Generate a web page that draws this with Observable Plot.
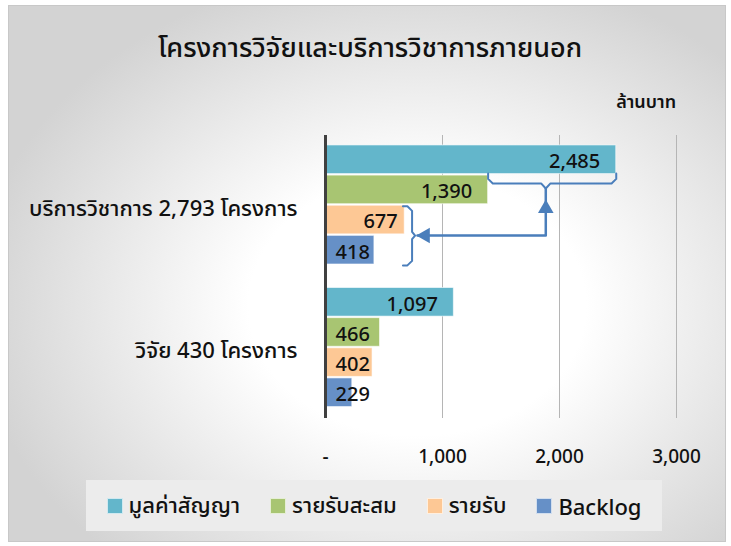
<!DOCTYPE html>
<html>
<head>
<meta charset="utf-8">
<script src="https://cdn.jsdelivr.net/npm/d3@7"></script>
<script src="https://cdn.jsdelivr.net/npm/@observablehq/plot@0.6"></script>
<style>
  html, body { margin: 0; padding: 0; background: #fff; }
  #chart {
    position: relative; width: 731px; height: 546px; overflow: hidden;
    font-family: "Noto Sans", "Noto Sans Thai", Tahoma, sans-serif;
  }
  #frame {
    position: absolute; left: 8px; top: 5px; width: 716px; height: 535px;
    border: 1px solid #c8c8c8;
    background: radial-gradient(ellipse 62% 64% at 57% 56%, #ffffff 38%, #d3d3d3 100%);
  }
  #title {
    position: absolute; left: 0; top: 28px; width: 740px; text-align: center;
    font-size: 27px; font-weight: 500; color: #111;
  }
  #unit {
    position: absolute; right: 55px; top: 89px; font-size: 18px; font-weight: 600; color: #111;
  }
  #plot { position: absolute; left: 0; top: 120px; }
  #legend {
    position: absolute; left: 86px; top: 480px; width: 576px; height: 51px;
    background: #ececec; display: flex; align-items: center; justify-content: center;
    gap: 30px; font-size: 22px; font-weight: 500; color: #111;
  }
  .item { display: flex; align-items: center; gap: 6px; }
  .sw { width: 14px; height: 14px; border: 1px solid rgba(255,255,255,0.7); }
</style>
</head>
<body>
<div id="chart">
  <div id="frame"></div>
  <div id="title"></div>
  <div id="unit"></div>
  <div id="plot"></div>
  <div id="legend"></div>
</div>
<script>
// ---- data ----
const titleText = "โครงการวิจัยและบริการวิชาการภายนอก";
const unitText = "ล้านบาท";
const groups = ["บริการวิชาการ 2,793 โครงการ", "วิจัย 430 โครงการ"];
const series = ["มูลค่าสัญญา", "รายรับสะสม", "รายรับ", "Backlog"];
const contractValue = [2485, 1097];
const accumulatedIncome = [1390, 466];
const income = [677, 402];
const backlog = [418, 229];
const xTicks = [0, 1000, 2000, 3000];
const colors = ["#63b6cb", "#a8c572", "#fdc895", "#6690c7"];

// ---- layout helpers ----
const GROUP_STEP = 4.73;       // rows per group incl. gap
const BAR = 0.95;              // bar thickness in rows
const valuesBySeries = [contractValue, accumulatedIncome, income, backlog];
const rows = [];
groups.forEach((g, gi) => series.forEach((s, si) => rows.push({
  group: g, series: s, value: valuesBySeries[si][gi], gi, si,
  top: gi * GROUP_STEP + si
})));

const fmt = d3.format(",");

document.getElementById("title").textContent = titleText;
document.getElementById("unit").textContent = unitText;

// annotation geometry derived from the first group's values
const lineColor = "#4a7ebb";
const t0 = contractValue[0], a0 = accumulatedIncome[0], i0 = income[0];
const xt = a0 + 0.45 * (t0 - a0);      // tip of the upper brace
const cx = 40, cy = 0.15;
const braceTop = [
  [a0, 0.93], [a0, 1.26 - cy], [a0 + cx, 1.26], [xt - cx, 1.26], [xt, 1.43],
  [xt + cx, 1.26], [t0 - cx, 1.26], [t0, 1.26 - cy], [t0, 0.93]
].map(([x, y]) => ({x, y}));
const bx = i0 + 63, btip = i0 + 89, ymid = 2.99;
const braceRight = [
  [i0 - 15, 2.02], [bx - cx, 2.02], [bx, 2.02 + cy], [bx, ymid - 0.12], [btip, ymid],
  [bx, ymid + 0.12], [bx, 3.98 - cy], [bx - cx, 3.98], [i0 - 15, 3.98]
].map(([x, y]) => ({x, y}));
const arrowLine = [{x: xt, y: 1.43}, {x: xt, y: ymid}, {x: btip + 20, y: ymid}];

const font = "'Noto Sans', 'Noto Sans Thai', Tahoma, sans-serif";
const plot = Plot.plot({
  width: 731, height: 355,
  marginLeft: 325, marginRight: 55, marginTop: 15, marginBottom: 57,
  style: {background: "transparent", fontFamily: font, color: "#111"},
  x: {domain: [0, 3000]},
  y: {domain: [-0.33, GROUP_STEP + 4 + 0.33], reverse: true, axis: null},
  color: {domain: series, range: colors},
  marks: [
    Plot.ruleX(xTicks.filter(d => d > 0), {stroke: "#b5b5b5", strokeWidth: 1}),
    Plot.rect(rows, {
      x1: 0, x2: "value", y1: d => d.top, y2: d => d.top + BAR,
      fill: "series", stroke: "white", strokeOpacity: 0.6, strokeWidth: 1
    }),
    Plot.ruleX([0], {stroke: "#404040", strokeWidth: 3}),
    Plot.text(rows.filter(d => d.value >= 1000), {
      x: "value", y: d => d.top + BAR / 2, text: d => fmt(d.value),
      textAnchor: "end", dx: -16, dy: 2, fontSize: 20, fontWeight: 500, fill: "#111"
    }),
    Plot.text(rows.filter(d => d.value >= 500 && d.value < 1000), {
      x: "value", y: d => d.top + BAR / 2, text: d => fmt(d.value),
      textAnchor: "end", dx: -7, dy: 2, fontSize: 20, fontWeight: 500, fill: "#111"
    }),
    Plot.text(rows.filter(d => d.value < 500), {
      x: 0, y: d => d.top + BAR / 2, text: d => fmt(d.value),
      textAnchor: "start", dx: 10, dy: 2, fontSize: 20, fontWeight: 500, fill: "#111"
    }),
    Plot.text(groups, {
      x: 0, y: (d, i) => i * GROUP_STEP + 2, text: d => d,
      textAnchor: "end", dx: -28, dy: 3, fontSize: 22, fontWeight: 500, fill: "#111"
    }),
    Plot.line(braceTop, {x: "x", y: "y", stroke: lineColor, strokeWidth: 2}),
    Plot.line(braceRight, {x: "x", y: "y", stroke: lineColor, strokeWidth: 2}),
    Plot.line(arrowLine, {x: "x", y: "y", stroke: lineColor, strokeWidth: 2.5}),
    Plot.dot([{x: xt, y: 2.09}], {x: "x", y: "y", symbol: "triangle", r: 5.8, fill: lineColor, stroke: "none"}),
    Plot.dot([{x: btip + 87, y: ymid}], {x: "x", y: "y", symbol: "triangle", r: 5.8, rotate: -90, fill: lineColor, stroke: "none"}),
    Plot.axisX({
      ticks: xTicks, tickSize: 0, tickPadding: 31, fontSize: 19, fontWeight: 500,
      tickFormat: d => d === 0 ? "-" : fmt(d), label: null
    })
  ]
});
document.getElementById("plot").appendChild(plot);

// legend
const legend = document.getElementById("legend");
series.forEach((s, i) => {
  const item = document.createElement("div");
  item.className = "item";
  const sw = document.createElement("span");
  sw.className = "sw";
  sw.style.background = colors[i];
  const label = document.createElement("span");
  label.textContent = s;
  item.appendChild(sw); item.appendChild(label);
  legend.appendChild(item);
});
</script>
</body>
</html>
